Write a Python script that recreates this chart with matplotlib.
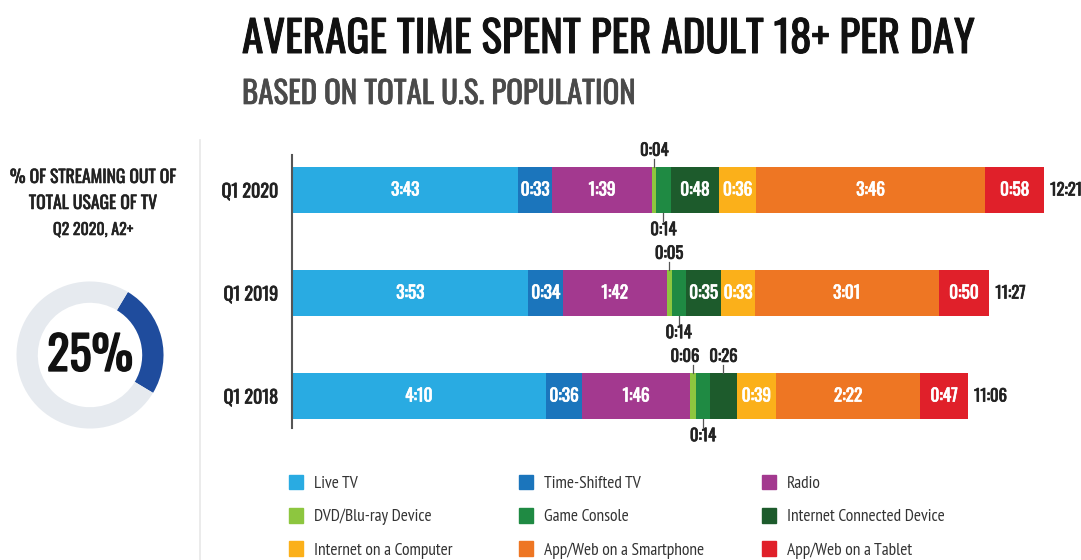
import matplotlib
matplotlib.use('Agg')
import matplotlib.pyplot as plt
import matplotlib.patheffects as pe

periods = ['Q1 2020', 'Q1 2019', 'Q1 2018']
categories = ['Live TV', 'Time-Shifted TV', 'Radio',
              'DVD/Blu-ray Device', 'Game Console', 'Internet Connected Device',
              'Internet on a Computer', 'App/Web on a Smartphone', 'App/Web on a Tablet']
colors = ['#29abe2', '#1b75bc', '#a3398f',
          '#8dc63f', '#1f8a43', '#1d5b2c',
          '#fbb01a', '#ee7623', '#e0202a']

# minutes per day, same order as categories
q1_2020 = [223, 33, 99, 4, 14, 48, 36, 226, 58]
q1_2019 = [233, 34, 102, 5, 14, 35, 33, 181, 50]
q1_2018 = [250, 36, 106, 6, 14, 26, 39, 142, 47]
minutes = [q1_2020, q1_2019, q1_2018]

streaming_share = 25  # % of streaming out of total usage of TV

# where small segments get their label
label_side = {'DVD/Blu-ray Device': 'above', 'Game Console': 'below',
              'Internet Connected Device': 'above'}
# push a crowded outside label sideways (pixels)
label_nudge = {('Q1 2018', 'DVD/Blu-ray Device'): -8}

COND = ['Oswald', 'Bebas Neue', 'Roboto Condensed', 'IBM Plex Sans Condensed', 'DejaVu Sans']
LEG = ['Ubuntu Condensed', 'PT Sans Narrow', 'Open Sans', 'DejaVu Sans']
W, H = 1081, 560


def hm(m):
    return f'{m // 60}:{m % 60:02d}'


def heavy(color, lw=0.6):
    # Oswald only comes in one weight here, so thicken it a little
    return [pe.withStroke(linewidth=lw, foreground=color)]


fig = plt.figure(figsize=(W / 100, H / 100), dpi=100)
renderer = fig.canvas.get_renderer()


def fit_width(t, width_px):
    bb = t.get_window_extent(renderer)
    t.set_fontsize(t.get_fontsize() * width_px / bb.width)


# titles
t1 = fig.text(242 / W, 1 - 53 / H, 'AVERAGE TIME SPENT PER ADULT 18+ PER DAY',
              family=COND, color='#111111', fontsize=30, va='baseline',
              path_effects=heavy('#111111', 0.7))
fit_width(t1, 733)
t2 = fig.text(242 / W, 1 - 104 / H, 'BASED ON TOTAL U.S. POPULATION',
              family=COND, color='#4a4a4a', fontsize=20, va='baseline',
              path_effects=heavy('#4a4a4a', 0.5))
fit_width(t2, 393)

# left panel
left_lines = ['% OF STREAMING OUT OF', 'TOTAL USAGE OF TV', 'Q2 2020, A2+']
left_w = [166, 128, 80]
for i, (s, w) in enumerate(zip(left_lines, left_w)):
    t = fig.text(93 / W, 1 - (183 + i * 26) / H, s, family=COND,
                 color='#222222', fontsize=12, ha='center', va='baseline',
                 path_effects=heavy('#222222', 0.4))
    fit_width(t, w)

fig.add_artist(plt.Line2D([200 / W, 200 / W], [0, 1 - 140 / H],
                          transform=fig.transFigure, color='#e8e8e8', lw=1.2))

dax = fig.add_axes([15 / W, 1 - 430 / H, 150 / W, 150 / H])
dax.pie([streaming_share, 100 - streaming_share], colors=['#1f4c9d', '#e6eaef'],
        startangle=59, counterclock=False, radius=1,
        wedgeprops=dict(width=0.29, edgecolor='none'))
dax.set_xlim(-1.02, 1.02)
dax.set_ylim(-1.02, 1.02)
pt = dax.text(0, -0.02, f'{streaming_share}%', ha='center', va='center', family=COND,
              fontsize=36, color='#111111', path_effects=heavy('#111111', 1.0))
fit_width(pt, 86)

# main stacked bars
px_per_min = 1.015
ax = fig.add_axes([292 / W, 1 - 428 / H, (W - 292) / W, 273 / H])
ax.set_xlim(0, (W - 292) / px_per_min)
ax.set_ylim(2.31, -0.34)

bar_h = 0.45
lab_size = 12.5
for row, (period, vals) in enumerate(zip(periods, minutes)):
    left = 0
    for cat, v, c in zip(categories, vals, colors):
        ax.barh(row, v, left=left, height=bar_h, color=c, edgecolor='none')
        mid = left + v / 2
        if v >= 30:
            ax.text(mid, row, hm(v), ha='center', va='center', color='white',
                    family=COND, fontsize=lab_size, path_effects=heavy('white', 0.5))
        else:
            sgn = -1 if label_side.get(cat, 'above') == 'above' else 1
            ax.plot([mid, mid], [row + sgn * bar_h / 2, row + sgn * 0.30],
                    color='#555555', lw=0.9)
            tx = mid + label_nudge.get((period, cat), 0) / px_per_min
            ax.text(tx, row + sgn * 0.385, hm(v), ha='center', va='center',
                    color='#222222', family=COND, fontsize=12,
                    path_effects=heavy('#222222', 0.5))
        left += v
    ax.text(left + 6, row, hm(left), ha='left', va='center', color='#222222',
            family=COND, fontsize=12, path_effects=heavy('#222222', 0.5))

ax.set_yticks(range(len(periods)))
ax.set_yticklabels(periods, family=COND, fontsize=13, color='#222222')
for lab in ax.get_yticklabels():
    lab.set_path_effects(heavy('#222222', 0.5))
ax.tick_params(axis='y', length=0, pad=10)
ax.set_xticks([])
for s in ['top', 'right', 'bottom']:
    ax.spines[s].set_visible(False)
ax.spines['left'].set_color('#555555')
ax.spines['left'].set_linewidth(1.5)

# legend, one column at a time (reference reads row by row)
handles = [plt.Rectangle((0, 0), 1, 1, color=c) for c in colors]
col_x = [289, 519, 762]
for col in range(3):
    fig.legend(handles[col::3], categories[col::3], loc='upper left',
               bbox_to_anchor=(col_x[col] / W, 1 - 475 / H), frameon=False,
               prop=dict(family=LEG, size=12.5), labelcolor='#333333',
               handlelength=0.82, handleheight=0.9, handletextpad=0.6,
               labelspacing=0.92, borderpad=0, borderaxespad=0)

fig.savefig('out.png', dpi=100)
